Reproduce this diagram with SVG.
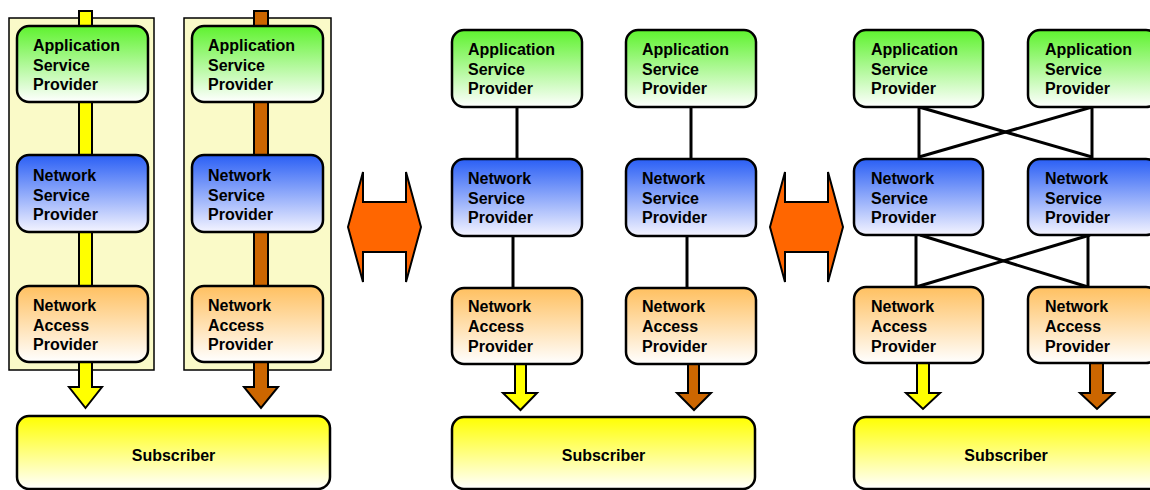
<svg xmlns="http://www.w3.org/2000/svg" width="1150" height="490" viewBox="0 0 1150 490">
  <defs>
    <linearGradient id="gApp" x1="0" y1="0" x2="0" y2="1">
      <stop offset="0" stop-color="#5EF22E"/>
      <stop offset="1" stop-color="#FFFFFF"/>
    </linearGradient>
    <linearGradient id="gNsp" x1="0" y1="0" x2="0" y2="1">
      <stop offset="0" stop-color="#2A5FF5"/>
      <stop offset="1" stop-color="#F4F4FF"/>
    </linearGradient>
    <linearGradient id="gNap" x1="0" y1="0" x2="0" y2="1">
      <stop offset="0" stop-color="#FFC060"/>
      <stop offset="1" stop-color="#FFFFFF"/>
    </linearGradient>
    <linearGradient id="gSub" x1="0" y1="0" x2="0" y2="1">
      <stop offset="0" stop-color="#FFFF00"/>
      <stop offset="1" stop-color="#FFFFFF"/>
    </linearGradient>
  </defs>
  <style>
    .panel { fill: #FAFAC8; stroke: #000; stroke-width: 1.5; }
    .node { stroke: #000; stroke-width: 2.5; }
    .app { fill: url(#gApp); }
    .nsp { fill: url(#gNsp); }
    .nap { fill: url(#gNap); }
    .sub { fill: url(#gSub); }
    .lbl { font-family: "Liberation Sans", Arial, sans-serif; font-weight: bold; font-size: 16px; fill: #000; }
    .link { stroke: #000; stroke-width: 3; fill: none; }
    .yel { fill: #FFFF00; stroke: #000; stroke-width: 2; }
    .brn { fill: #CC6600; stroke: #000; stroke-width: 2; }
    .dbl { fill: #FF6600; stroke: #000; stroke-width: 2; stroke-linejoin: miter; }
  </style>

  <!-- left panel: background strips -->
  <rect class="panel" x="9" y="18" width="145" height="352"/>
  <rect class="panel" x="184" y="18" width="147" height="352"/>

  <!-- flows through each stack -->
  <g id="connectors">
    <!-- left panel vertical flows -->
    <path class="yel" d="M79,11 H92 V387 H102 L85.5,408 L69,387 H79 Z"/>
    <path class="brn" d="M254,11 H268 V387 H278 L261,408 L244,387 H254 Z"/>

    <!-- middle panel links -->
    <line class="link" x1="517" y1="107" x2="517" y2="159"/>
    <line class="link" x1="691" y1="107" x2="691" y2="159"/>
    <line class="link" x1="513" y1="236" x2="513" y2="288"/>
    <line class="link" x1="687" y1="236" x2="687" y2="288"/>
    <path class="yel" d="M515,364 H526 V393 H537 L520.5,410 L503,393 H515 Z"/>
    <path class="brn" d="M688,364 H699 V393 H711 L694,410 L677,393 H688 Z"/>

    <!-- right panel meshed links -->
    <line class="link" x1="919" y1="107" x2="919" y2="159"/>
    <line class="link" x1="1092" y1="107" x2="1092" y2="159"/>
    <line class="link" x1="919" y1="107" x2="1092" y2="157"/>
    <line class="link" x1="1092" y1="107" x2="919" y2="157"/>
    <line class="link" x1="916" y1="235" x2="916" y2="287"/>
    <line class="link" x1="1088" y1="235" x2="1088" y2="287"/>
    <line class="link" x1="916" y1="287" x2="1090" y2="235"/>
    <line class="link" x1="920" y1="235" x2="1088" y2="287"/>
    <path class="yel" d="M917,363 H929 V393 H940 L923,409 L906,393 H917 Z"/>
    <path class="brn" d="M1090,363 H1103 V393 H1114 L1097,409 L1080,393 H1090 Z"/>
  </g>

  <!-- equivalence arrows between the three views -->
  <g id="equiv1">
    <path class="dbl" d="M348,227 L363,172 V202 H406 V172 L421,227 L406,282 V252 H363 V282 Z"/>
  </g>
  <g id="equiv2">
    <path class="dbl" d="M770,227 L785,172 V202 H828 V172 L843,227 L828,282 V252 H785 V282 Z"/>
  </g>

  <!-- left panel nodes -->
  <g id="l-asp1">
    <rect class="node app" x="17" y="26" width="131" height="76" rx="12"/>
    <text class="lbl" x="33" y="51">Application</text>
    <text class="lbl" x="33" y="71">Service</text>
    <text class="lbl" x="33" y="90">Provider</text>
  </g>
  <g id="l-asp2">
    <rect class="node app" x="192" y="26" width="131" height="76" rx="12"/>
    <text class="lbl" x="208" y="51">Application</text>
    <text class="lbl" x="208" y="71">Service</text>
    <text class="lbl" x="208" y="90">Provider</text>
  </g>
  <g id="l-nsp1">
    <rect class="node nsp" x="17" y="155" width="131" height="77" rx="12"/>
    <text class="lbl" x="33" y="181">Network</text>
    <text class="lbl" x="33" y="201">Service</text>
    <text class="lbl" x="33" y="220">Provider</text>
  </g>
  <g id="l-nsp2">
    <rect class="node nsp" x="192" y="155" width="131" height="77" rx="12"/>
    <text class="lbl" x="208" y="181">Network</text>
    <text class="lbl" x="208" y="201">Service</text>
    <text class="lbl" x="208" y="220">Provider</text>
  </g>
  <g id="l-nap1">
    <rect class="node nap" x="17" y="286" width="131" height="76" rx="12"/>
    <text class="lbl" x="33" y="311">Network</text>
    <text class="lbl" x="33" y="331">Access</text>
    <text class="lbl" x="33" y="350">Provider</text>
  </g>
  <g id="l-nap2">
    <rect class="node nap" x="192" y="286" width="131" height="76" rx="12"/>
    <text class="lbl" x="208" y="311">Network</text>
    <text class="lbl" x="208" y="331">Access</text>
    <text class="lbl" x="208" y="350">Provider</text>
  </g>
  <g id="l-sub">
    <rect class="node sub" x="17" y="416" width="313" height="73" rx="12"/>
    <text class="lbl" x="173.5" y="461" text-anchor="middle">Subscriber</text>
  </g>

  <!-- middle panel nodes -->
  <g id="m-asp1">
    <rect class="node app" x="452" y="30" width="130" height="77" rx="12"/>
    <text class="lbl" x="468" y="55">Application</text>
    <text class="lbl" x="468" y="75">Service</text>
    <text class="lbl" x="468" y="94">Provider</text>
  </g>
  <g id="m-asp2">
    <rect class="node app" x="626" y="30" width="130" height="77" rx="12"/>
    <text class="lbl" x="642" y="55">Application</text>
    <text class="lbl" x="642" y="75">Service</text>
    <text class="lbl" x="642" y="94">Provider</text>
  </g>
  <g id="m-nsp1">
    <rect class="node nsp" x="452" y="159" width="130" height="77" rx="12"/>
    <text class="lbl" x="468" y="184">Network</text>
    <text class="lbl" x="468" y="204">Service</text>
    <text class="lbl" x="468" y="223">Provider</text>
  </g>
  <g id="m-nsp2">
    <rect class="node nsp" x="626" y="159" width="130" height="77" rx="12"/>
    <text class="lbl" x="642" y="184">Network</text>
    <text class="lbl" x="642" y="204">Service</text>
    <text class="lbl" x="642" y="223">Provider</text>
  </g>
  <g id="m-nap1">
    <rect class="node nap" x="452" y="288" width="130" height="76" rx="12"/>
    <text class="lbl" x="468" y="312">Network</text>
    <text class="lbl" x="468" y="332">Access</text>
    <text class="lbl" x="468" y="352">Provider</text>
  </g>
  <g id="m-nap2">
    <rect class="node nap" x="626" y="288" width="130" height="76" rx="12"/>
    <text class="lbl" x="642" y="312">Network</text>
    <text class="lbl" x="642" y="332">Access</text>
    <text class="lbl" x="642" y="352">Provider</text>
  </g>
  <g id="m-sub">
    <rect class="node sub" x="452" y="417" width="303" height="72" rx="12"/>
    <text class="lbl" x="603.5" y="461" text-anchor="middle">Subscriber</text>
  </g>

  <!-- right panel nodes -->
  <g id="r-asp1">
    <rect class="node app" x="854" y="30" width="129" height="77" rx="12"/>
    <text class="lbl" x="871" y="55">Application</text>
    <text class="lbl" x="871" y="75">Service</text>
    <text class="lbl" x="871" y="94">Provider</text>
  </g>
  <g id="r-asp2">
    <rect class="node app" x="1028" y="30" width="130" height="77" rx="12"/>
    <text class="lbl" x="1045" y="55">Application</text>
    <text class="lbl" x="1045" y="75">Service</text>
    <text class="lbl" x="1045" y="94">Provider</text>
  </g>
  <g id="r-nsp1">
    <rect class="node nsp" x="854" y="159" width="129" height="76" rx="12"/>
    <text class="lbl" x="871" y="184">Network</text>
    <text class="lbl" x="871" y="204">Service</text>
    <text class="lbl" x="871" y="223">Provider</text>
  </g>
  <g id="r-nsp2">
    <rect class="node nsp" x="1028" y="159" width="130" height="76" rx="12"/>
    <text class="lbl" x="1045" y="184">Network</text>
    <text class="lbl" x="1045" y="204">Service</text>
    <text class="lbl" x="1045" y="223">Provider</text>
  </g>
  <g id="r-nap1">
    <rect class="node nap" x="854" y="287" width="129" height="76" rx="12"/>
    <text class="lbl" x="871" y="312">Network</text>
    <text class="lbl" x="871" y="332">Access</text>
    <text class="lbl" x="871" y="352">Provider</text>
  </g>
  <g id="r-nap2">
    <rect class="node nap" x="1028" y="287" width="130" height="76" rx="12"/>
    <text class="lbl" x="1045" y="312">Network</text>
    <text class="lbl" x="1045" y="332">Access</text>
    <text class="lbl" x="1045" y="352">Provider</text>
  </g>
  <g id="r-sub">
    <rect class="node sub" x="854" y="417" width="310" height="72" rx="12"/>
    <text class="lbl" x="1006" y="461" text-anchor="middle">Subscriber</text>
  </g>
</svg>
